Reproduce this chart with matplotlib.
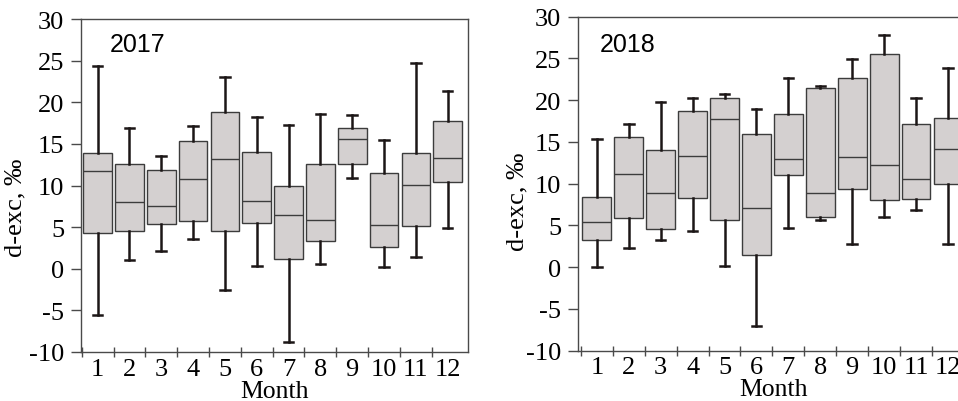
import matplotlib

matplotlib.use("Agg")

import matplotlib.pyplot as plt
from matplotlib.ticker import FixedLocator

months = list(range(1, 13))
month_labels = [str(m) for m in months]

# 2017 : whisker ends, quartiles and medians (d-exc, ‰)
low_2017 = [-5.5, 1.1, 2.1, 3.6, -2.5, 0.3, -8.8, 0.6, 10.9, 0.2, 1.4, 4.9]
q1_2017 = [4.3, 4.5, 5.4, 5.8, 4.5, 5.5, 1.2, 3.3, 12.6, 2.6, 5.2, 10.4]
med_2017 = [11.7, 8.0, 7.6, 10.8, 13.2, 8.2, 6.5, 5.9, 15.6, 5.3, 10.1, 13.3]
q3_2017 = [13.9, 12.6, 11.9, 15.3, 18.8, 14.0, 9.9, 12.6, 16.9, 11.5, 13.9, 17.8]
high_2017 = [24.4, 16.9, 13.6, 17.1, 23.1, 18.2, 17.3, 18.6, 18.5, 15.5, 24.7, 21.4]

# 2018
low_2018 = [0.0, 2.3, 3.3, 4.3, 0.2, -7.0, 4.7, 5.6, 2.8, 6.0, 6.9, 2.8]
q1_2018 = [3.2, 5.9, 4.6, 8.3, 5.6, 1.5, 11.0, 6.0, 9.4, 8.0, 8.2, 10.0]
med_2018 = [5.4, 11.1, 8.9, 13.3, 17.8, 7.1, 13.0, 8.9, 13.2, 12.2, 10.6, 14.2]
q3_2018 = [8.4, 15.6, 14.0, 18.7, 20.2, 15.9, 18.3, 21.4, 22.6, 25.5, 17.2, 17.9]
high_2018 = [15.3, 17.1, 19.8, 20.2, 20.7, 18.9, 22.7, 21.7, 24.9, 27.8, 20.3, 23.8]

SERIF = ["Liberation Serif", "DejaVu Serif"]
SANS = ["Liberation Sans", "DejaVu Sans"]
SPINE = "#4a4a4a"


def build_stats(low, q1, med, q3, high):
    return [
        {"whislo": lo, "q1": a, "med": m, "q3": b, "whishi": hi, "fliers": []}
        for lo, a, m, b, hi in zip(low, q1, med, q3, high)
    ]


def draw_panel(ax, stats, year, xlim, year_pos, ylab_pos):
    ax.bxp(
        stats,
        positions=months,
        widths=0.9,
        capwidths=0.3,
        patch_artist=True,
        showfliers=False,
        boxprops=dict(facecolor="#d4d0d0", edgecolor="#3c3c3c", linewidth=1.0),
        medianprops=dict(color="#3c3c3c", linewidth=1.0),
        whiskerprops=dict(color="#1c1616", linewidth=1.8),
        capprops=dict(color="#1c1616", linewidth=1.8),
    )
    ax.set_xlim(*xlim)
    ax.set_ylim(-10, 30)
    ax.set_yticks(range(-10, 31, 5))
    ax.set_yticklabels([str(v) for v in range(-10, 31, 5)], family=SERIF, fontsize=19)
    ax.set_xticks(months)
    ax.set_xticklabels(month_labels, family=SERIF, fontsize=19)
    ax.xaxis.set_minor_locator(FixedLocator([m - 0.5 for m in months]))
    ax.tick_params(axis="x", which="major", length=0, pad=4)
    ax.tick_params(axis="x", which="minor", direction="inout", length=7,
                   width=1.0, color=SPINE)
    ax.tick_params(axis="y", direction="out", length=7, width=1.0,
                   color=SPINE, pad=5)
    for sp in ax.spines.values():
        sp.set_color(SPINE)
        sp.set_linewidth(1.0)
    ax.set_xlabel("Month", family=SERIF, fontsize=18.5, labelpad=0)
    ax.set_ylabel("d-exc, \u2030", family=SERIF, fontsize=19)
    ax.yaxis.set_label_coords(*ylab_pos)
    ax.text(year_pos[0], year_pos[1], year, transform=ax.transAxes,
            family=SANS, fontsize=18, va="center", ha="left")


fig = plt.figure(figsize=(9.58, 4.02), dpi=100)
ax1 = fig.add_axes([0.0846, 0.1219, 0.404, 0.828])
ax2 = fig.add_axes([0.6033, 0.1251, 0.4076, 0.831])

draw_panel(ax1, build_stats(low_2017, q1_2017, med_2017, q3_2017, high_2017),
           "2017", (0.48, 12.64), (0.075, 0.926), (-0.14, 0.435))
draw_panel(ax2, build_stats(low_2018, q1_2018, med_2018, q3_2018, high_2018),
           "2018", (0.41, 12.64), (0.056, 0.918), (-0.128, 0.448))

fig.savefig("out.png", dpi=100)
